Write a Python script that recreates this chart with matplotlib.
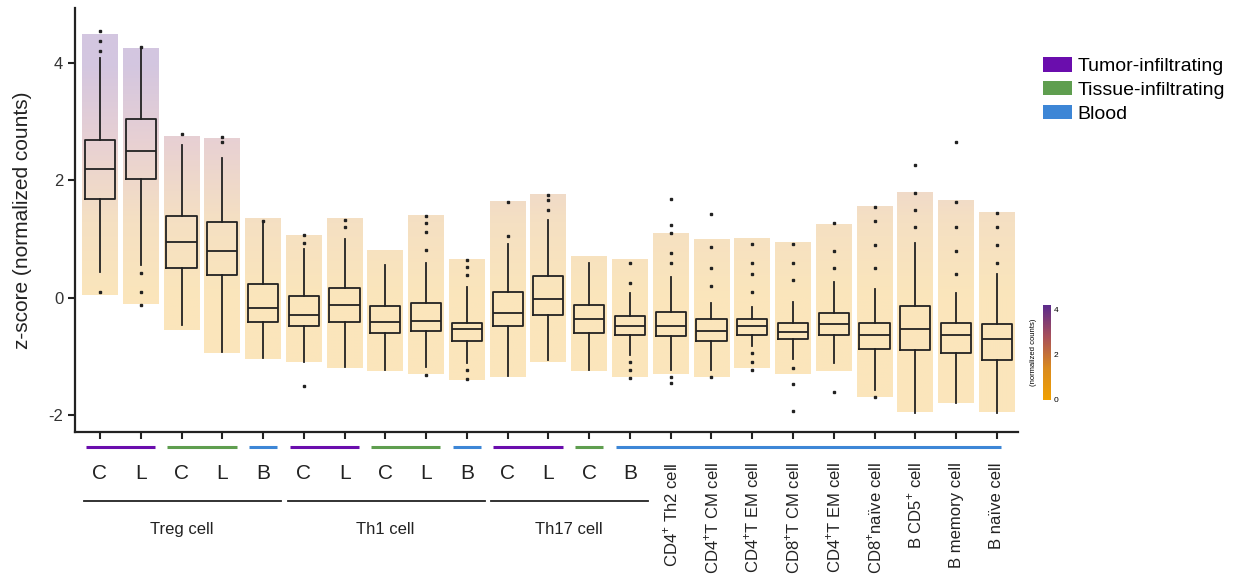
import numpy as np
import matplotlib
matplotlib.use('Agg')
from matplotlib import pyplot as plt
from matplotlib.colors import LinearSegmentedColormap, Normalize
from matplotlib.cm import ScalarMappable
from matplotlib.patches import Patch

plt.rcParams['font.family'] = ['Liberation Sans', 'DejaVu Sans']
plt.rcParams['mathtext.fontset'] = 'custom'
plt.rcParams['mathtext.rm'] = 'Liberation Sans'

# box statistics (z-score)
q1 = [1.69, 2.02, 0.51, 0.39, -0.41, -0.48, -0.41, -0.61, -0.57, -0.73, -0.49, -0.29,
      -0.60, -0.63, -0.66, -0.73, -0.63, -0.71, -0.63, -0.87, -0.90, -0.95, -1.06]
med = [2.20, 2.50, 0.95, 0.80, -0.17, -0.29, -0.12, -0.41, -0.39, -0.53, -0.26, -0.02,
       -0.37, -0.49, -0.48, -0.56, -0.49, -0.58, -0.44, -0.63, -0.54, -0.63, -0.70]
q3 = [2.69, 3.05, 1.40, 1.29, 0.24, 0.03, 0.17, -0.14, -0.09, -0.43, 0.09, 0.37,
      -0.12, -0.31, -0.24, -0.37, -0.37, -0.43, -0.26, -0.43, -0.14, -0.43, -0.44]
whis_lo = [0.44, 0.56, -0.46, -0.92, -1.02, -1.09, -1.19, -1.23, -1.19, -1.11, -1.34, -1.07,
           -1.23, -0.97, -1.24, -1.23, -0.83, -1.05, -1.11, -1.57, -1.96, -1.79, -1.96]
whis_hi = [4.09, 4.24, 2.60, 2.38, 1.31, 0.83, 1.00, 0.56, 0.59, 0.19, 0.92, 1.33,
           0.59, 0.08, 0.36, -0.09, -0.15, -0.07, 0.26, 0.14, 0.94, 0.08, 0.41]
fliers = [[4.55, 4.37, 4.20, 0.10], [4.27, 0.42, 0.09, -0.12], [2.79], [2.74, 2.66],
          [1.31], [1.07, 0.94, -1.51], [1.33, 1.21], [], [0.82, 1.12, 1.27, 1.40, -1.31],
          [0.39, 0.53, 0.65, -1.23, -1.38], [1.06, 1.63], [1.50, 1.67, 1.75], [],
          [0.25, 0.60, -1.10, -1.23, -1.37], [0.60, 0.76, 1.10, 1.24, 1.68, -1.35, -1.45],
          [0.20, 0.50, 0.87, 1.43, -1.35], [0.10, 0.40, 0.60, 0.92, -0.95, -1.10, -1.23],
          [0.30, 0.60, 0.92, -1.20, -1.48, -1.94], [0.50, 0.80, 1.27, -1.60],
          [0.50, 0.90, 1.30, 1.55, -1.70], [1.20, 1.50, 1.79, 2.26],
          [0.40, 0.80, 1.20, 1.63, 2.65], [0.60, 0.90, 1.20, 1.45]]
# extent of the jittered point cloud of each group
cloud_lo = [0.05, -0.10, -0.55, -0.95, -1.05, -1.10, -1.20, -1.25, -1.30, -1.40, -1.35, -1.10,
            -1.25, -1.35, -1.30, -1.35, -1.20, -1.30, -1.25, -1.70, -1.95, -1.80, -1.95]
cloud_hi = [4.50, 4.25, 2.75, 2.70, 1.35, 1.05, 1.35, 0.80, 1.40, 0.65, 1.65, 1.75,
            0.70, 0.65, 1.10, 1.00, 1.00, 0.95, 1.25, 1.55, 1.80, 1.65, 1.45]

sub_labels = ['C', 'L', 'C', 'L', 'B', 'C', 'L', 'C', 'L', 'B', 'C', 'L', 'C', 'B']
rot_labels = [r'CD4$^{+}$ Th2 cell', r'CD4$^{+}$T CM cell', r'CD4$^{+}$T EM cell',
              r'CD8$^{+}$T CM cell', r'CD4$^{+}$T EM cell', r'CD8$^{+}$naïve cell',
              r'B CD5$^{+}$ cell', 'B memory cell', 'B naïve cell']
families = [('Treg cell', 0, 4), ('Th1 cell', 5, 9), ('Th17 cell', 10, 13)]
# tissue bars: (first group, last group, type)
tissue_runs = [(0, 1, 'T'), (2, 3, 'N'), (4, 4, 'B'), (5, 6, 'T'), (7, 8, 'N'), (9, 9, 'B'),
               (10, 11, 'T'), (12, 12, 'N'), (13, 22, 'B')]
tissue_names = {'T': 'Tumor-infiltrating', 'N': 'Tissue-infiltrating', 'B': 'Blood'}
tissue_colors = {'T': '#6a0dad', 'N': '#5f9e4f', 'B': '#3d86d6'}

cmap = LinearSegmentedColormap.from_list('zc', ['#f0a000', '#d98a1e', '#a8505a', '#5b2a8c'])

fig = plt.figure(figsize=(12.43, 5.79), dpi=100)
ax = fig.add_axes([75 / 1243, 1 - 432 / 579, (1018 - 75) / 1243, (432 - 8) / 579])

n = len(med)
xs = np.arange(n)

# point clouds shown as value-coloured bands
for i in range(n):
    grad = np.linspace(cloud_lo[i], cloud_hi[i], 200).reshape(-1, 1)
    ax.imshow(grad, cmap=cmap, vmin=0, vmax=4, origin='lower', aspect='auto',
              extent=(i - 0.44, i + 0.44, cloud_lo[i], cloud_hi[i]), alpha=0.27, zorder=1)

stats = []
for i in range(n):
    stats.append(dict(med=med[i], q1=q1[i], q3=q3[i], whislo=whis_lo[i], whishi=whis_hi[i],
                      fliers=fliers[i]))
ax.bxp(stats, positions=xs, widths=0.74, showcaps=False, patch_artist=False,
       boxprops=dict(color='#222222', linewidth=1.3),
       medianprops=dict(color='#222222', linewidth=1.3),
       whiskerprops=dict(color='#222222', linewidth=1.3),
       flierprops=dict(marker='s', markersize=1.7, markerfacecolor='#222222',
                       markeredgecolor='#222222'),
       zorder=3)

ax.set_xlim(-0.613, 22.52)
ax.set_ylim(-2.29, 4.94)
ax.set_yticks([4, 2, 0, -2])
ax.set_yticklabels(['4', '2', '0', '-2'], fontsize=12, color='#333333')
ax.set_xticks(xs)
ax.set_xticklabels([])
ax.tick_params(axis='both', length=5, width=1.5, color='#222222')
ax.set_ylabel('z-score (normalized counts)', fontsize=15, color='#222222', labelpad=12)
for s in ['top', 'right']:
    ax.spines[s].set_visible(False)
for s in ['left', 'bottom']:
    ax.spines[s].set_linewidth(1.6)
    ax.spines[s].set_color('#222222')

# annotations under the axis
trans = ax.get_xaxis_transform()
for a, b, t in tissue_runs:
    ax.plot([a - 0.35, b + 0.1 if b == 22 else b + 0.35], [-0.036, -0.036], transform=trans,
            color=tissue_colors[t], lw=2.2, clip_on=False, solid_capstyle='butt')
for i, lab in enumerate(sub_labels):
    ax.text(i, -0.075, lab, transform=trans, ha='center', va='top', fontsize=15, color='#222222')
for name, a, b in families:
    ax.plot([a - 0.4, b + 0.45], [-0.162, -0.162], transform=trans, color='#222222', lw=1.3,
            clip_on=False)
    ax.text((a + b) / 2, -0.212, name, transform=trans, ha='center', va='top', fontsize=12,
            color='#222222')
for j, lab in enumerate(rot_labels):
    ax.text(14 + j, -0.072, lab, transform=trans, ha='center', va='top', rotation=90,
            fontsize=12, color='#222222')

# legend
handles = [Patch(facecolor=tissue_colors[k], edgecolor='none', label=tissue_names[k])
           for k in ['T', 'N', 'B']]
fig.legend(handles=handles, loc='upper left', bbox_to_anchor=(1025 / 1243, 1 - 40 / 579),
           frameon=False, fontsize=14, handlelength=1.5, handleheight=0.75,
           handletextpad=0.3, labelspacing=0.3)

# colour bar
cax = fig.add_axes([1043 / 1243, 1 - 400 / 579, 8 / 1243, 95 / 579])
cb = fig.colorbar(ScalarMappable(norm=Normalize(0, 4.2), cmap=cmap), cax=cax, ticks=[0, 2, 4])
cb.outline.set_visible(False)
cax.tick_params(labelsize=6, length=0, pad=2)
cax.set_ylabel('(normalized counts)', fontsize=5.5)
cax.yaxis.set_label_position('left')

fig.savefig('out.png', dpi=100)
